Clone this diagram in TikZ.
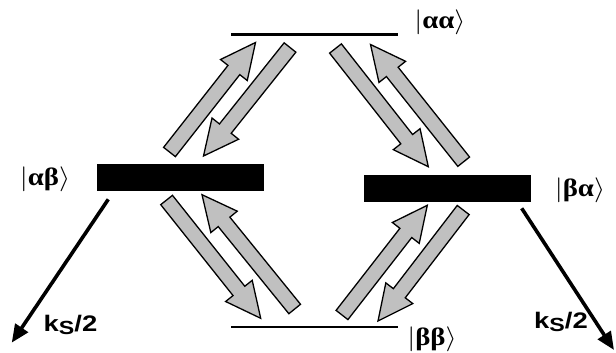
\documentclass[tikz,border=0pt]{standalone}
\usepackage{fontspec}
\newfontfamily\grk{Liberation Serif}
\newfontfamily\lsans{Liberation Sans}
\usetikzlibrary{calc,arrows.meta}

\definecolor{shaft}{RGB}{192,192,192}

% dimensions of the hollow exchange arrows
\newcommand\shaftw{7.5pt}
\newcommand\headw{17pt}
\newcommand\headl{35pt}

% block arrow from tail centre #1 to tip #2
\newcommand\blockarrow[2]{%
  \coordinate (hb) at ($(#2)!\headl!(#1)$);
  \draw[exchange]
    ($(#1)!\shaftw!90:(#2)$) --
    ($(hb)!\shaftw!90:(#2)$) --
    ($(hb)!\headw!90:(#2)$) --
    (#2) --
    ($(hb)!\headw!-90:(#2)$) --
    ($(hb)!\shaftw!-90:(#2)$) --
    ($(#1)!\shaftw!-90:(#2)$) -- cycle;
}

\tikzset{
  level/.style={fill=black, inner sep=0pt, minimum width=167pt},
  thinlevel/.style={level, minimum height=2.3pt},
  thicklevel/.style={level, minimum height=27pt},
  ket/.style={inner sep=0pt, xscale=1.15, font=\fontsize{25}{25}\selectfont},
  rate/.style={inner sep=0pt, xscale=1.22, font=\lsans\bfseries\fontsize{22.5}{22.5}\selectfont},
  exchange/.style={draw=black, line width=1.3pt, fill=shaft},
  decay/.style={line width=3.6pt, -{Triangle[length=18pt,width=15pt]}},
}

\newcommand\ketlabel[1]{$|$\grk\bfseries #1$\rangle$}

\begin{document}
\begin{tikzpicture}[x=1pt, y=-1pt]
\useasboundingbox (0,0) rectangle (616,353);

% energy levels
\node[thinlevel]  (aa) at (314,34.5) {};
\node[thinlevel]  (bb) at (314,327) {};
\node[thicklevel] (ab) at (180.3,177.4) {};
\node[thicklevel] (ba) at (447.9,188) {};

% state labels
\node[ket] (aaL) at (440,22.5)  {\ketlabel{αα}};
\node[ket] (abL) at (45,179)    {\ketlabel{αβ}};
\node[ket] (baL) at (580,190.5) {\ketlabel{βα}};
\node[ket] (bbL) at (432,339)   {\ketlabel{ββ}};

% tails and tips of the exchange arrows
\coordinate (t1) at (169.5,152);   \coordinate (p1) at (255.5,42.5);
\coordinate (t2) at (290,47.5);    \coordinate (p2) at (203.5,156);
\coordinate (t3) at (335.5,48.5);  \coordinate (p3) at (428.3,166.7);
\coordinate (t4) at (463.7,161.7); \coordinate (p4) at (370.5,44.5);
\coordinate (t5) at (166.6,200);   \coordinate (p5) at (260.7,318.3);
\coordinate (t6) at (294.7,309);   \coordinate (p6) at (202,194.7);
\coordinate (t7) at (342,315);     \coordinate (p7) at (427.3,205.3);
\coordinate (t8) at (463.2,210);   \coordinate (p8) at (378,321);

\blockarrow{t1}{p1}
\blockarrow{t2}{p2}
\blockarrow{t3}{p3}
\blockarrow{t4}{p4}
\blockarrow{t5}{p5}
\blockarrow{t6}{p6}
\blockarrow{t7}{p7}
\blockarrow{t8}{p8}

% singlet decay
\coordinate (dl0) at (108.3,199.3); \coordinate (dl1) at (11.7,342.7);
\coordinate (dr0) at (521.7,208.3); \coordinate (dr1) at (614,350);
\draw[decay] (dl0) -- (dl1);
\draw[decay] (dr0) -- (dr1);

\node[rate] (kl) at (70.5,325) {k\raisebox{-3pt}{\fontsize{19}{19}\selectfont S}/2};
\node[rate] (kr) at (561,322) {k\raisebox{-3pt}{\fontsize{19}{19}\selectfont S}/2};
\end{tikzpicture}
\end{document}
